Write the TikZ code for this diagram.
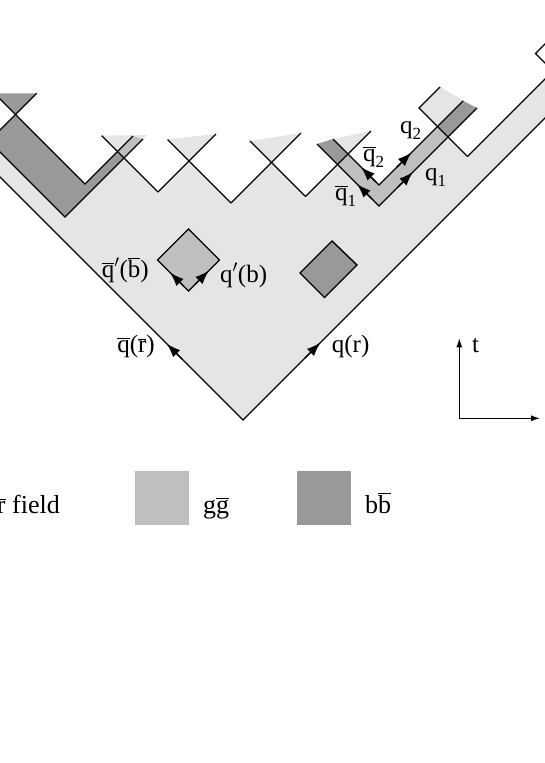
\documentclass[tikz,border=0pt]{standalone}
\usepackage{fontspec}
\setmainfont{Liberation Serif}
\usetikzlibrary{arrows.meta}
\definecolor{fieldr}{gray}{0.9}
\definecolor{fieldg}{gray}{0.75}
\definecolor{fieldb}{gray}{0.6}
\newcommand\ovl[1]{\ensuremath{\overline{\hbox{#1}}}}
\newcommand\subx[1]{\raisebox{-6pt}{\fontsize{17}{17}\selectfont #1}}
\begin{document}
\begin{tikzpicture}[x=1pt,y=-1pt,
  wl/.style={line width=1.4pt, line join=miter},
  tip/.style={line width=1.4pt, -{Latex[length=14pt,width=10pt]}},
  smalltip/.style={line width=1.1pt, -{Latex[length=9pt,width=6pt]}},
  lab/.style={font=\fontsize{25}{28}\selectfont, inner sep=0pt},
  leg/.style={font=\fontsize{26}{28}\selectfont, inner sep=0pt}]
\useasboundingbox (0,0) rectangle (545,763);
% main rr field
\fill[fieldr] (-20,157) -- (243,420) -- (560,103) -- (560,64) -- (467.5,156.5)
  -- (448,137) -- (379,206) -- (337.5,164.5) -- (305.5,196.5) -- (271.5,162.5)
  -- (231,203) -- (189,161) -- (158,192) -- (124,158) -- (65,217) -- (-20,132) -- cycle;
% light wedges above crossings
\fill[fieldr] (124,158) -- (101.7,135.7) -- (147,135) -- cycle;
\fill[fieldr] (189,161) -- (167.5,139.5) -- (216,134) -- cycle;
\fill[fieldr] (271.5,162.5) -- (250,141) -- (301,133) -- cycle;
\fill[fieldr] (337.5,164.5) -- (317,144) -- (333,139) -- (371,131) -- cycle;
\fill[fieldr] (419,108) -- (440,87) -- (470,104) -- (448,137) -- cycle;
% left b band
\fill[fieldb] (-11,141) -- (15.5,114.5) -- (85,184) -- (117,152) -- (124,158) -- (65,217) -- cycle;
\fill[fieldb] (15.5,114.5) -- (-5.7,93.3) -- (36.7,93.3) -- cycle;
\fill[fieldg] (117,152) -- (133,136) -- (143,139) -- (124,158) -- cycle;
% right band
\fill[fieldb] (317,144) -- (333,139) -- (348,154) -- (337.5,164.5) -- cycle;
\fill[fieldg] (337.5,164.5) -- (348,154) -- (379,185) -- (437.5,126.5) -- (448,137) -- (379,206) -- cycle;
\fill[fieldb] (437.5,126.5) -- (463,101) -- (477,108) -- (448,137) -- cycle;
% lines
\draw[wl] (-20,157) -- (243,420) -- (560,103);
\draw[wl] (467.5,156.5) -- (560,64);
\draw[wl] (440,87) -- (419,108) -- (467.5,156.5);
\draw[wl] (317,144) -- (379,206) -- (477,108);
\draw[wl] (333,139) -- (379,185) -- (463,101);
\draw[wl] (305.5,196.5) -- (371,131);
\draw[wl] (250,141) -- (305.5,196.5);
\draw[wl] (231,203) -- (301,133);
\draw[wl] (167.5,139.5) -- (231,203);
\draw[wl] (158,192) -- (216,134);
\draw[wl] (101.7,135.7) -- (158,192);
\draw[wl] (-10,89) -- (85,184) -- (133,136);
\draw[wl] (-20,132) -- (65,217) -- (143,139);
\draw[wl] (36.7,93.3) -- (-20,150);
\draw[wl] (548,41) -- (535.5,53.5) -- (548,66);
% diamonds
\draw[wl, fill=fieldg] (188.5,229) -- (219.5,260) -- (188.5,291) -- (157.5,260) -- cycle;
\draw[wl, fill=fieldb] (332,241) -- (357,265) -- (324.5,297.5) -- (300,273) -- cycle;
% arrows
\draw[tip] (182,359) -- (166.7,343.7);
\draw[tip] (305,358) -- (320.5,342.5);
\draw[tip] (184,286.5) -- (170,272.5);
\draw[tip] (195,284.5) -- (209,270.5);
\draw[tip] (372,199) -- (357,184);
\draw[tip] (376,182) -- (361,167);
\draw[tip] (396.5,167.5) -- (411.5,152.5);
\draw[tip] (398,187) -- (413,172);
% axes
\coordinate (O) at (459.3,418.3);
\coordinate (T) at (459.3,338.3);
\coordinate (X) at (540,418.3);
\draw[smalltip] (O) -- (T);
\draw[smalltip] (O) -- (X);
% labels
\node[lab, anchor=base east] (lqb) at (149,277) {\ovl{q}$'$(\ovl{b})};
\node[lab, anchor=base west] (lq) at (220,282) {q$'$(b)};
\node[lab, anchor=base east] (lqr) at (155,352) {\ovl{q}(\ovl{r})};
\node[lab, anchor=base west] (rqr) at (331.7,352) {q(r)};
\node[lab, anchor=base west] (qb1) at (335,200) {\ovl{q}\subx{1}};
\node[lab, anchor=base west] (qb2) at (363,161) {\ovl{q}\subx{2}};
\node[lab, anchor=base west] (q2) at (400,133) {q\subx{2}};
\node[lab, anchor=base west] (q1) at (425,180) {q\subx{1}};
\node[lab, anchor=base west] (t) at (472,352) {t};
% legend
\fill[fieldg] (135,471) rectangle (189,525);
\fill[fieldb] (297,471) rectangle (351,525);
\node[leg, anchor=base east] (lr) at (60,513) {r\ovl{r} field};
\node[leg, anchor=base west] (lg) at (203,513) {g\ovl{g}};
\node[leg, anchor=base west] (lb) at (365,513) {b\ovl{b}};
\end{tikzpicture}
\end{document}
